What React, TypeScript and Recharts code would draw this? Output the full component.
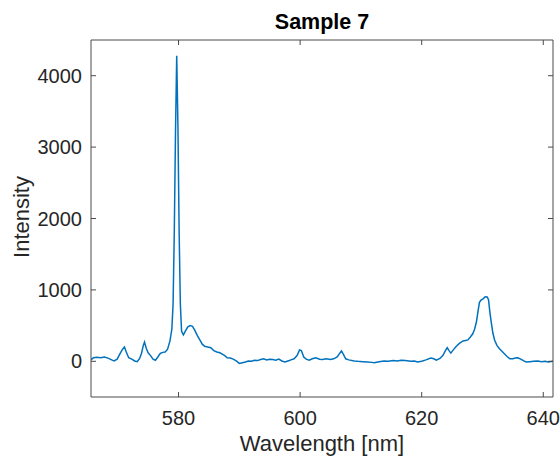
import React from 'react';
import { LineChart, Line, XAxis, YAxis } from 'recharts';

// spectrum (nm, counts)
const wavelength = [
  565.6, 566.0, 566.6, 567.2, 567.8, 568.4, 569.0, 569.4, 569.9, 570.4,
  570.8, 571.1, 571.4, 571.8, 572.3, 572.8, 573.2, 573.6, 573.9, 574.2,
  574.4, 574.7, 575.0, 575.4, 575.8, 576.2, 576.6, 577.0, 577.4, 577.8,
  578.2, 578.6, 578.9, 579.1, 579.3, 579.5, 579.7, 579.9, 580.1, 580.3,
  580.5, 580.8, 581.1, 581.5, 581.9, 582.3, 582.7, 583.1, 583.5, 583.9,
  584.3, 584.8, 585.3, 585.8, 586.3, 586.8, 587.2, 587.6, 588.0, 588.5,
  589.0, 589.5, 590.0, 590.5, 591.0, 591.5, 592.0, 592.5, 593.0, 593.5,
  594.0, 594.5, 595.0, 595.5, 596.0, 596.5, 597.0, 597.5, 598.0, 598.5,
  599.0, 599.5, 599.9, 600.2, 600.6, 601.0, 601.5, 602.0, 602.6, 603.2,
  603.7, 604.3, 605.0, 605.5, 606.1, 606.5, 606.8, 607.1, 607.5, 608.0,
  608.9, 609.5, 610.3, 611.1, 611.8, 612.2, 613.0, 613.8, 614.5, 615.3,
  616.0, 616.6, 617.3, 618.2, 618.8, 619.3, 620.0, 620.7, 621.5, 622.0,
  622.4, 623.0, 623.5, 623.9, 624.2, 624.5, 624.8, 625.2, 625.7, 626.2,
  626.8, 627.2, 627.6, 628.0, 628.4, 628.7, 629.0, 629.3, 629.5, 629.8,
  630.1, 630.4, 630.6, 630.8, 631.0, 631.2, 631.4, 631.7, 632.0, 632.4,
  632.8, 633.2, 633.6, 634.0, 634.5, 635.0, 635.4, 635.8, 636.3, 636.8,
  637.2, 637.8, 638.4, 639.1, 639.7, 640.3, 640.8, 641.6,
];

const intensity = [
  20, 50, 55, 50, 60, 45, 20, 5, 30, 110,
  170, 200, 130, 50, 30, 5, -5, 40, 110, 220,
  270, 180, 120, 80, 30, 15, 60, 110, 125, 130,
  170, 290, 450, 800, 1800, 3200, 4280, 3300, 1800, 800,
  420, 370, 420, 480, 500, 490, 430, 360, 300, 240,
  210, 200, 190, 150, 130, 120, 100, 80, 50, 45,
  30, 5, -30, -20, -10, 5, 0, 15, 10, 25,
  35, 20, 30, 25, 15, 30, 5, -10, 5, 20,
  35, 80, 160, 150, 60, 30, 15, 35, 50, 30,
  25, 35, 25, 35, 60, 110, 145, 100, 35, 20,
  5, 0, -5, -10, -15, -20, -5, 5, 0, 10,
  5, 15, 10, 0, 5, -10, 0, 20, 45, 35,
  15, 40, 85, 150, 190, 150, 115, 160, 210, 250,
  285, 290, 300, 340, 385, 450, 550, 720, 825, 860,
  875, 900, 905, 900, 860, 700, 570, 400, 295, 220,
  175, 140, 105, 70, 35, 35, 45, 50, 30, 5,
  -10, -5, 0, 5, -5, 0, -10, 0,
];

const xTicks = [580, 600, 620, 640];
const yTicks = [0, 1000, 2000, 3000, 4000];

const data = wavelength.map((w, i) => ({ w, v: intensity[i] }));

const axisColor = '#4a4a4a';
const textColor = '#262626';
const font = '"Liberation Sans", Arial, sans-serif';

const NoTick = () => <g />;

export default function App() {
  return (
    <div style={{ position: 'absolute', left: 0, top: 0, width: 560, height: 463, background: '#fff', fontFamily: font }}>
      <div
        style={{
          position: 'absolute', left: 322, top: 22, transform: 'translate(-50%, -50%)',
          fontSize: 21.5, fontWeight: 'bold', color: '#000', whiteSpace: 'nowrap',
        }}
      >
        Sample 7
      </div>
      <div
        style={{
          position: 'absolute', left: 22, top: 217, transform: 'translate(-50%, -50%) rotate(-90deg)',
          fontSize: 22, color: textColor, whiteSpace: 'nowrap',
        }}
      >
        Intensity
      </div>
      <LineChart width={560} height={463} data={data} margin={{ top: 0, right: 0, bottom: 0, left: 0 }}>
        <XAxis
          xAxisId="bottom"
          dataKey="w"
          type="number"
          domain={[565.6, 641.6]}
          allowDataOverflow
          ticks={xTicks}
          height={66}
          tickSize={-5}
          tickMargin={19}
          stroke={axisColor}
          tick={{ fill: textColor, fontSize: 20, fontFamily: font }}
          label={{ value: 'Wavelength [nm]', position: 'insideBottom', offset: 12, fill: textColor, fontSize: 22, fontFamily: font }}
        />
        <XAxis
          xAxisId="top"
          orientation="top"
          dataKey="w"
          type="number"
          domain={[565.6, 641.6]}
          allowDataOverflow
          ticks={xTicks}
          height={40}
          tickSize={-5}
          stroke={axisColor}
          tick={NoTick}
        />
        <YAxis
          yAxisId="left"
          type="number"
          domain={[-500, 4500]}
          allowDataOverflow
          ticks={yTicks}
          width={91}
          tickSize={-5}
          tickMargin={14}
          stroke={axisColor}
          tick={{ fill: textColor, fontSize: 20, fontFamily: font }}
        />
        <YAxis
          yAxisId="right"
          orientation="right"
          type="number"
          domain={[-500, 4500]}
          allowDataOverflow
          ticks={yTicks}
          width={7}
          tickSize={-5}
          stroke={axisColor}
          tick={NoTick}
        />
        <Line
          xAxisId="bottom"
          yAxisId="left"
          type="linear"
          dataKey="v"
          stroke="#0072BD"
          strokeWidth={1.5}
          dot={false}
          isAnimationActive={false}
        />
      </LineChart>
    </div>
  );
}
